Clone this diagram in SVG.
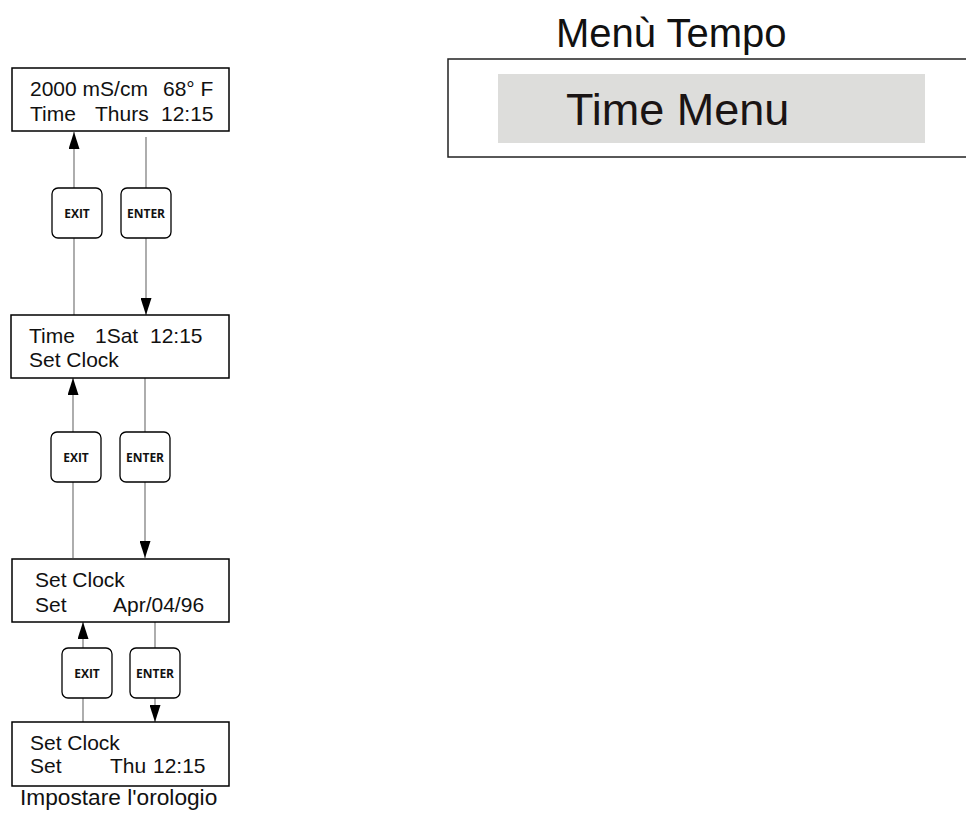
<svg xmlns="http://www.w3.org/2000/svg" width="966" height="821" viewBox="0 0 966 821">
<style>
.box{fill:#fff;stroke:#000;stroke-width:1.5}
.btn{fill:#fff;stroke:#000;stroke-width:1.3}
.t{font-family:"Liberation Sans",Arial,sans-serif;font-size:21px;fill:#111}
.b{font-family:"Open Sans","DejaVu Sans",sans-serif;font-size:12px;font-weight:bold;fill:#111;text-anchor:middle}
.c{stroke:#777;stroke-width:1.2;fill:none}
.ca{stroke:#777;stroke-width:1.2;fill:none;marker-end:url(#ah)}
</style>
<defs>
<marker id="ah" viewBox="0 0 17 11" refX="17" refY="5.5" markerWidth="17" markerHeight="11" markerUnits="userSpaceOnUse" orient="auto">
<path d="M0,0 L17,5.5 L0,11 Z" fill="#000"/>
</marker>
</defs>
<rect width="966" height="821" fill="#fff"/>
<g id="title">
<text x="556" y="47" style="font-family:'Liberation Sans',Arial,sans-serif;font-size:40px;fill:#111">Menù Tempo</text>
</g>
<g id="time-menu">
<rect x="448" y="59" width="522" height="98" fill="#fff" stroke="#222" stroke-width="1.5"/>
<rect x="498" y="74" width="427" height="69" fill="#dddddb"/>
<text x="566" y="125" style="font-family:'Liberation Sans',Arial,sans-serif;font-size:45px;fill:#1a1414">Time Menu</text>
</g>
<g id="connectors">
<line class="c" x1="74" y1="315" x2="74" y2="238"/>
<line class="ca" x1="74" y1="188" x2="74" y2="132"/>
<line class="c" x1="146" y1="137" x2="146" y2="188"/>
<line class="ca" x1="146" y1="238" x2="146" y2="315"/>
<line class="c" x1="73" y1="558" x2="73" y2="482"/>
<line class="ca" x1="73" y1="432" x2="73" y2="378"/>
<line class="c" x1="145" y1="378" x2="145" y2="432"/>
<line class="ca" x1="145" y1="482" x2="145" y2="558"/>
<line class="c" x1="83" y1="722" x2="83" y2="698"/>
<line class="ca" x1="83" y1="648" x2="83" y2="622"/>
<line class="c" x1="155" y1="622" x2="155" y2="648"/>
<line class="ca" x1="155" y1="698" x2="155" y2="722"/>
</g>
<g id="display-main">
<rect class="box" x="12" y="68" width="217" height="63"/>
<text class="t" x="30" y="96">2000 mS/cm</text>
<text class="t" x="163" y="96">68° F</text>
<text class="t" x="30" y="121">Time</text>
<text class="t" x="95" y="121">Thurs</text>
<text class="t" x="161" y="121">12:15</text>
</g>
<g id="exit-1"><rect class="btn" x="52" y="188" width="50" height="50" rx="6"/><text class="b" x="77" y="218">EXIT</text></g>
<g id="enter-1"><rect class="btn" x="121" y="188" width="50" height="50" rx="6"/><text class="b" x="146" y="218">ENTER</text></g>
<g id="display-time">
<rect class="box" x="11" y="315" width="218" height="63"/>
<text class="t" x="29" y="343">Time</text>
<text class="t" x="95" y="343">1Sat</text>
<text class="t" x="150" y="343">12:15</text>
<text class="t" x="29" y="367">Set Clock</text>
</g>
<g id="exit-2"><rect class="btn" x="51" y="432" width="50" height="50" rx="6"/><text class="b" x="76" y="462">EXIT</text></g>
<g id="enter-2"><rect class="btn" x="120" y="432" width="50" height="50" rx="6"/><text class="b" x="145" y="462">ENTER</text></g>
<g id="display-date">
<rect class="box" x="12" y="559" width="217" height="63"/>
<text class="t" x="35" y="587">Set Clock</text>
<text class="t" x="35" y="612">Set</text>
<text class="t" x="113" y="612">Apr/04/96</text>
</g>
<g id="exit-3"><rect class="btn" x="62" y="648" width="50" height="50" rx="6"/><text class="b" x="87" y="678">EXIT</text></g>
<g id="enter-3"><rect class="btn" x="130" y="648" width="50" height="50" rx="6"/><text class="b" x="155" y="678">ENTER</text></g>
<g id="display-day">
<rect class="box" x="12" y="722" width="217" height="64"/>
<text class="t" x="30" y="750">Set Clock</text>
<text class="t" x="30" y="773">Set</text>
<text class="t" x="110" y="773">Thu</text>
<text class="t" x="153" y="773">12:15</text>
</g>
<g id="caption">
<text x="20" y="805" style="font-family:'Liberation Sans',Arial,sans-serif;font-size:22.7px;fill:#111">Impostare l'orologio</text>
</g>
</svg>
